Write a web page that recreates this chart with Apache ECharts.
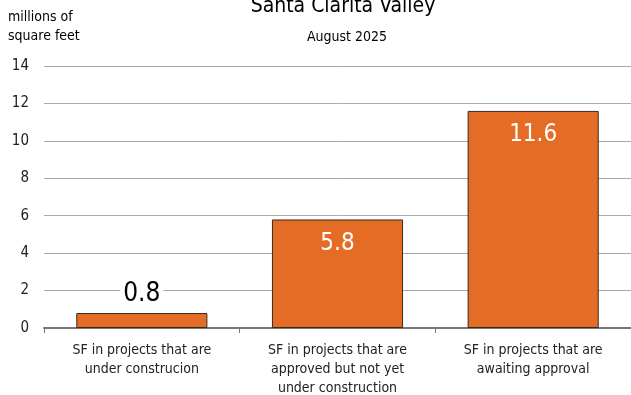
<!DOCTYPE html>
<html>
<head>
<meta charset="utf-8">
<script src="https://cdn.jsdelivr.net/npm/echarts@6/dist/echarts.min.js"></script>
<style>
html,body{margin:0;padding:0;background:#fff;}
#chart{width:631px;height:395px;}
</style>
</head>
<body>
<div id="chart"></div>
<script>
const categories = [
  'SF in projects that are\nunder construcion',
  'SF in projects that are\napproved but not yet\nunder construction',
  'SF in projects that are\nawaiting approval'
];
const values = [0.8, 5.8, 11.6];
const yTicks = [0, 2, 4, 6, 8, 10, 12, 14];

const FONT = "'Liberation Sans Narrow', 'DejaVu Sans Condensed', 'Arial Narrow', sans-serif";
const BAR_COLOR = '#E46C24';

const chart = echarts.init(document.getElementById('chart'));
chart.setOption({
  backgroundColor: '#fff',
  animation: false,
  textStyle: { fontFamily: FONT },
  title: [
    {
      text: 'Santa Clarita Valley',
      left: 338, top: -9, textAlign: 'center',
      textStyle: { fontFamily: FONT, fontSize: 21, fontWeight: 'normal', color: '#000' }
    },
    {
      text: 'August 2025',
      left: 342, top: 25, textAlign: 'center',
      textStyle: { fontFamily: FONT, fontSize: 14, fontWeight: 'normal', color: '#000' }
    },
    {
      text: 'millions of\nsquare feet',
      left: 3, top: 3,
      textStyle: { fontFamily: FONT, fontSize: 14, fontWeight: 'normal', color: '#000', lineHeight: 19 }
    }
  ],
  grid: { left: 44, right: 0, top: 66, bottom: 67, containLabel: false, outerBoundsMode: 'none' },
  xAxis: {
    type: 'category',
    data: categories,
    axisLine: { show: true, lineStyle: { color: '#777', width: 2 } },
    axisTick: { show: true, length: 5, lineStyle: { color: '#777' } },
    axisLabel: {
      fontFamily: FONT, fontSize: 14, color: '#222', lineHeight: 19,
      margin: 13, interval: 0
    }
  },
  yAxis: {
    type: 'value',
    min: yTicks[0], max: yTicks[yTicks.length - 1], interval: 2,
    axisLine: { show: false },
    axisTick: { show: false },
    axisLabel: { fontFamily: FONT, fontSize: 15, color: '#222', margin: 15 },
    splitLine: { lineStyle: { color: '#aaa', width: 1 } }
  },
  series: [{
    type: 'bar',
    data: values.map((v, i) => ({
      value: v,
      label: i === 0
        ? { show: true, position: 'top', distance: 6, color: '#000', fontSize: 26,
            backgroundColor: '#fff', padding: [0, 3] }
        : { show: true, position: 'insideTop', distance: 12, color: '#fff' }
    })),
    barWidth: '67%',
    itemStyle: { color: BAR_COLOR, borderColor: '#3a2a20', borderWidth: 1 },
    label: {
      fontFamily: FONT, fontSize: 24, fontWeight: 'normal',
      formatter: p => p.value.toFixed(1)
    }
  }]
});
</script>
</body>
</html>
